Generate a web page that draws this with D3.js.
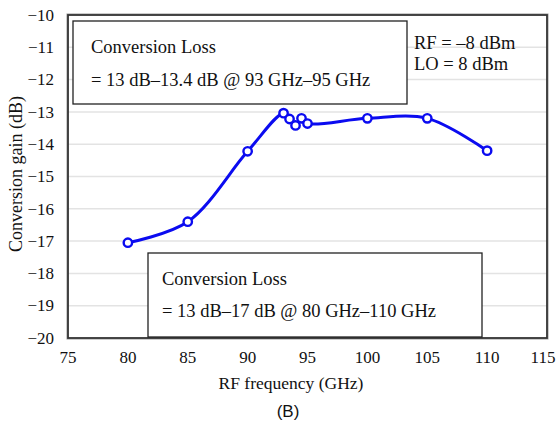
<!DOCTYPE html>
<html><head><meta charset="utf-8">
<script src="https://cdn.jsdelivr.net/npm/d3@7"></script>
<style>body{margin:0;background:#fff;}</style>
</head><body>
<script>
const freqs = [80, 85, 90, 93, 93.5, 94, 94.5, 95, 100, 105, 110];
const gains = [-17.05, -16.4, -14.22, -13.04, -13.22, -13.42, -13.2, -13.36, -13.2, -13.2, -14.2];
const xTicks = [75, 80, 85, 90, 95, 100, 105, 110, 115];
const yTicks = [-10, -11, -12, -13, -14, -15, -16, -17, -18, -19, -20];
const topBoxLines = ["Conversion Loss", "= 13 dB\u201313.4 dB @ 93 GHz\u201395 GHz"];
const bottomBoxLines = ["Conversion Loss", "= 13 dB\u201317 dB @ 80 GHz\u2013110 GHz"];
const condLines = ["RF = \u20138 dBm", "LO = 8 dBm"];

const W = 557, H = 429;
const m = {l: 68, t: 15, r: 547, b: 338};
const svg = d3.select("body").append("svg").attr("width", W).attr("height", H);
const x = d3.scaleLinear().domain([75, 115]).range([m.l, m.r]);
const y = d3.scaleLinear().domain([-20, -10]).range([m.b, m.t]);
const minus = v => (v < 0 ? "\u2212" : "") + Math.abs(v);

function serif(sel, size) {
  return sel.style("font-family", '"Liberation Serif"').style("font-size", size + "px").attr("fill", "#111");
}

// grid
svg.append("g").selectAll("line").data(yTicks.filter(v => v > -20 && v < -10)).join("line")
  .attr("x1", m.l).attr("x2", m.r).attr("y1", d => y(d)).attr("y2", d => y(d))
  .attr("stroke", "#e3e3e3").attr("stroke-width", 1.5);

// frame
svg.append("rect").attr("x", m.l - 1).attr("y", m.t - 1).attr("width", m.r - m.l + 2).attr("height", m.b - m.t + 2)
  .attr("fill", "none").attr("stroke", "#999").attr("stroke-width", 1);
svg.append("rect").attr("x", m.l).attr("y", m.t).attr("width", m.r - m.l).attr("height", m.b - m.t)
  .attr("fill", "none").attr("stroke", "#333").attr("stroke-width", 1.8);

// tick labels (positions from scales)
svg.append("g").selectAll("text").data(yTicks).join("text")
  .attr("x", m.l - 14).attr("y", d => y(d)).attr("dy", "0.34em").attr("text-anchor", "end")
  .text(minus).call(serif, 17);
svg.append("g").selectAll("text").data(xTicks).join("text")
  .attr("x", d => x(d)).attr("y", m.b + 25).attr("text-anchor", "middle")
  .attr("dx", (d, i) => i === xTicks.length - 1 ? -4 : 0)
  .text(d => d).call(serif, 17);

// boxes
function box(x0, y0, x1, y1) {
  svg.append("rect").attr("x", x0).attr("y", y0).attr("width", x1 - x0).attr("height", y1 - y0)
    .attr("fill", "#fff").attr("stroke", "#222").attr("stroke-width", 1.3);
}
box(73, 21, 407, 104);
box(148, 253, 482, 337);

function lines(arr, x0, ys, fs) {
  arr.forEach((t, i) => svg.append("text").attr("x", x0).attr("y", ys[i]).text(t).call(serif, fs));
}
lines(topBoxLines, 91, [53, 86], 18.5);
lines(bottomBoxLines, 162, [285, 317], 18.5);
lines(condLines, 414, [49, 70], 18.5);

// line
const line = d3.line().x((d, i) => x(freqs[i])).y(d => y(d)).curve(d3.curveCatmullRom.alpha(0.5));
svg.append("path").datum(gains).attr("d", line).attr("fill", "none")
  .attr("stroke", "#0b0bf0").attr("stroke-width", 3).attr("stroke-linejoin", "round");
svg.append("g").selectAll("circle").data(gains).join("circle")
  .attr("cx", (d, i) => x(freqs[i])).attr("cy", d => y(d)).attr("r", 4.2)
  .attr("fill", "#fff").attr("stroke", "#0b0bf0").attr("stroke-width", 2.4);

// axis titles
svg.append("text").attr("x", 291).attr("y", 389).attr("text-anchor", "middle")
  .text("RF frequency (GHz)").call(serif, 17.5);
svg.append("text").attr("transform", "translate(22,174) rotate(-90)").attr("text-anchor", "middle")
  .text("Conversion gain (dB)").call(serif, 18);
svg.append("text").attr("x", 288).attr("y", 417).attr("text-anchor", "middle")
  .style("font-family", '"Liberation Sans"').style("font-size", "17px").attr("fill", "#111").text("(B)");
</script>
</body></html>
